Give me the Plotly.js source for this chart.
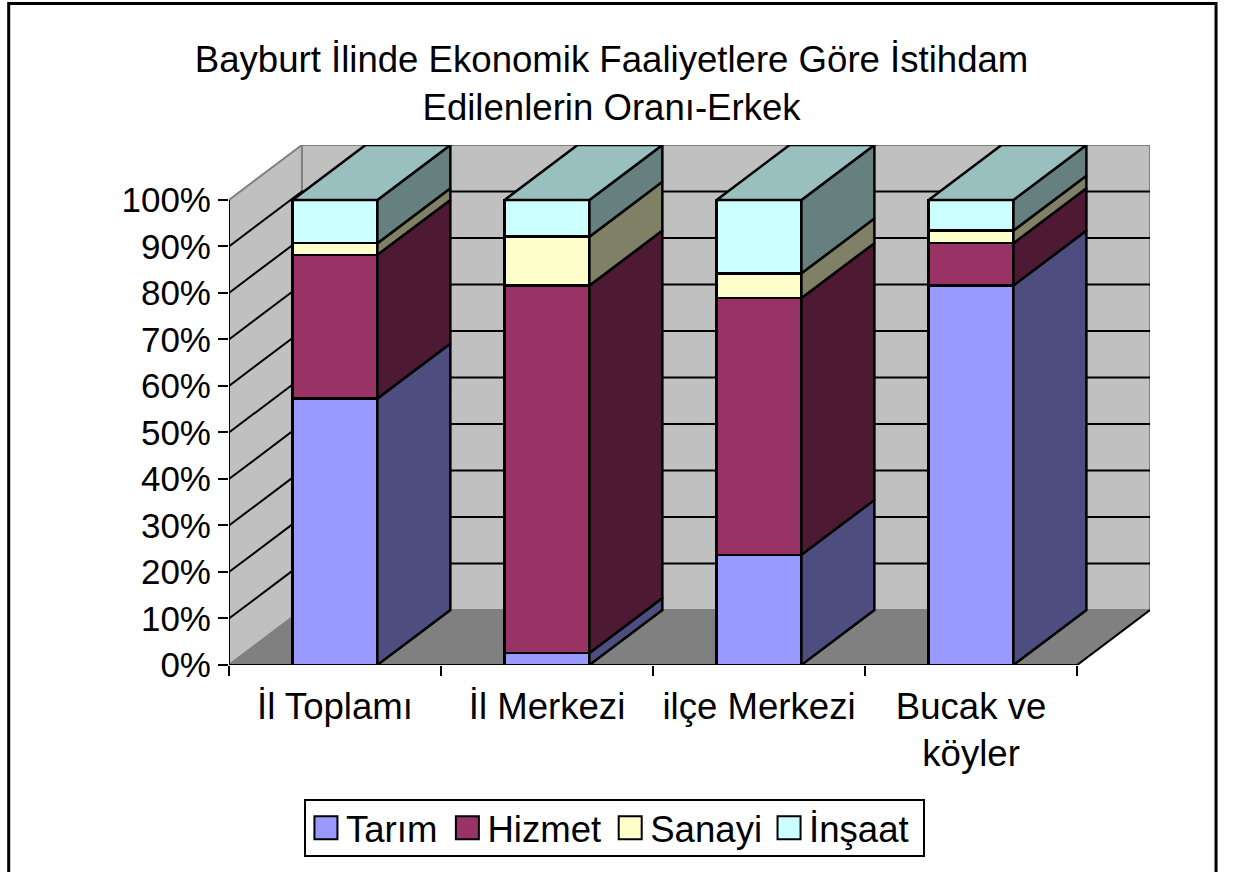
<!DOCTYPE html>
<html>
<head>
<meta charset="utf-8">
<script src="https://cdn.plot.ly/plotly-3.0.1.min.js"></script>
<style>
    body { margin: 0; background: #fff; }
</style>
</head>
<body>
<div id="chart"></div>
<script>
// Values (share of employed men, %)
const categories = ["İl Toplamı", "İl Merkezi", "ilçe Merkezi", "Bucak ve<br>köyler"];
const tarim = [57.3, 2.6, 23.7, 81.6];
const hizmet = [30.9, 79.0, 55.2, 9.1];
const sanayi = [2.5, 10.5, 5.3, 2.7];
const insaat = [9.3, 7.9, 15.8, 6.6];
const seriesNames = ["Tarım", "Hizmet", "Sanayi", "İnşaat"];
const percentTicks = [0, 10, 20, 30, 40, 50, 60, 70, 80, 90, 100];

const frontColors = ["#9999FF", "#993366", "#FFFFCC", "#CCFFFF"];
const sideColors = ["#4D4D80", "#4D1933", "#808066", "#668080"];
const topColor = "#9ABFBF";

// Fake 3D: the depth of the box, in axis units
const depthX = 0.344;
const depthY = 11.8;
const barWidth = 0.4;
const edgeWidth = 2.5;
const fontName = '"Liberation Sans", Arial, sans-serif';
const fontSize = 36.6;

const seriesValues = [tarim, hizmet, sanayi, insaat];
const positions = categories.map((c, i) => i + 0.5);

// Front faces are normal stacked bars
const barTraces = seriesValues.map((values, s) => ({
    type: "bar",
    name: seriesNames[s],
    x: positions,
    y: values,
    width: barWidth,
    cliponaxis: false,
    marker: { color: frontColors[s], line: { color: "#000", width: edgeWidth } },
    hoverinfo: "y+name",
}));

// Side faces, one trace per series, polygons separated by nulls
const base = categories.map(() => 0);
const sideTraces = seriesValues.map((values, s) => {
    const xs = [];
    const ys = [];
    values.forEach((v, i) => {
        const right = positions[i] + barWidth / 2;
        const y0 = base[i];
        const y1 = base[i] + v;
        xs.push(right, right + depthX, right + depthX, right, right, null);
        ys.push(y0, y0 + depthY, y1 + depthY, y1, y0, null);
        base[i] = y1;
    });
    return {
        type: "scatter",
        mode: "lines",
        x: xs,
        y: ys,
        fill: "toself",
        fillcolor: sideColors[s],
        line: { color: "#000", width: edgeWidth },
        cliponaxis: false,
        showlegend: false,
        hoverinfo: "skip",
    };
});

// Top faces
const topX = [];
const topY = [];
positions.forEach((p, i) => {
    const l = p - barWidth / 2;
    const r = p + barWidth / 2;
    topX.push(l, l + depthX, r + depthX, r, l, null);
    topY.push(base[i], base[i] + depthY, base[i] + depthY, base[i], base[i], null);
});
const topTrace = {
    type: "scatter",
    mode: "lines",
    x: topX,
    y: topY,
    fill: "toself",
    fillcolor: topColor,
    line: { color: "#000", width: edgeWidth },
    cliponaxis: false,
    showlegend: false,
    hoverinfo: "skip",
};

const nCat = categories.length;
const wallLine = { color: "#808080", width: 2 };

function poly(points) {
    return "M" + points.map(p => p.join(",")).join("L") + "Z";
}

const shapes = [
    // outer frame, runs off the bottom of the page
    { type: "path", xref: "paper", yref: "paper", layer: "below",
      path: "M-0.2392,-0.5 L-0.2392,1.272 L1.0717,1.272 L1.0717,-0.5",
      line: { color: "#000", width: 3 } },
    // back wall
    { type: "rect", layer: "below", x0: depthX, x1: nCat + depthX, y0: depthY, y1: 100 + depthY,
      fillcolor: "#C0C0C0", line: wallLine },
    // left wall
    { type: "path", layer: "below",
      path: poly([[0, 0], [depthX, depthY], [depthX, 100 + depthY], [0, 100]]),
      fillcolor: "#C0C0C0", line: wallLine },
    // floor
    { type: "path", layer: "below",
      path: poly([[0, 0], [nCat, 0], [nCat + depthX, depthY], [depthX, depthY]]),
      fillcolor: "#808080", line: wallLine },
];

// Gridlines run along the left wall and then along the back wall
percentTicks.slice(1, -1).forEach(v => {
    shapes.push({
        type: "path", layer: "below",
        path: `M0,${v}L${depthX},${v + depthY}L${nCat + depthX},${v + depthY}`,
        line: { color: "#000", width: 2 },
    });
});

// Axis lines and the front right edge of the floor
shapes.push(
    { type: "line", layer: "below", x0: 0, x1: 0, y0: 0, y1: 100, line: { color: "#000", width: 2 } },
    { type: "line", layer: "above", x0: 0, x1: nCat, y0: 0, y1: 0, line: { color: "#000", width: 2 } },
    { type: "line", layer: "below", x0: nCat, x1: nCat + depthX, y0: 0, y1: depthY, line: { color: "#000", width: 2 } }
);

const layout = {
    width: 1233,
    height: 872,
    autosize: false,
    margin: { l: 229, r: 83, t: 144.5, b: 206.5 },
    paper_bgcolor: "rgba(0,0,0,0)",
    plot_bgcolor: "rgba(0,0,0,0)",
    font: { family: fontName, size: fontSize, color: "#000" },
    title: {
        text: "Bayburt İlinde Ekonomik Faaliyetlere Göre İstihdam<br>Edilenlerin Oranı-Erkek",
        x: 0.496,
        xanchor: "center",
        y: 0.9175,
        yanchor: "top",
        font: { family: fontName, size: fontSize, color: "#000" },
    },
    barmode: "stack",
    xaxis: {
        range: [0, nCat + depthX],
        tickmode: "array",
        tickvals: positions,
        ticktext: categories,
        tickangle: 0,
        ticks: "",
        ticklabelstandoff: 16,
        showgrid: false,
        zeroline: false,
        showline: false,
        fixedrange: true,
        minor: { tickmode: "array", tickvals: [0, 1, 2, 3, 4], ticks: "outside", ticklen: 10, tickwidth: 2, tickcolor: "#000", showgrid: false },
    },
    yaxis: {
        range: [0, 100 + depthY],
        tickmode: "array",
        tickvals: percentTicks,
        ticktext: percentTicks.map(v => v + "%"),
        tickfont: { size: 35 },
        ticks: "outside",
        ticklen: 10,
        tickwidth: 2,
        tickcolor: "#000",
        showgrid: false,
        zeroline: false,
        showline: false,
        fixedrange: true,
    },
    legend: {
        orientation: "h",
        traceorder: "normal",
        xref: "container",
        yref: "container",
        x: 0.2465,
        xanchor: "left",
        y: 0.0837,
        yanchor: "top",
        bgcolor: "#fff",
        bordercolor: "#000",
        borderwidth: 2,
        itemclick: false,
        itemdoubleclick: false,
        font: { family: fontName, size: fontSize, color: "#000" },
    },
    shapes: shapes,
};

// Legend fine tuning after the draw: plotly fixes the swatch at 12px and packs entries tighter
const legendShift = [0, 5, 9, 11];
const legendBoxWidth = 619;
const legendBoxHeight = 56;

Plotly.newPlot("chart", [...barTraces, ...sideTraces, topTrace], layout, { displayModeBar: false }).then(gd => {
    gd.querySelectorAll(".legend .legendpoints path").forEach(p => {
        p.setAttribute("d", "M11.5,11.5H-11.5V-11.5H11.5Z");
        p.style.strokeWidth = "2px";
    });
    const bg = gd.querySelector(".legend .bg");
    const up = (parseFloat(bg.getAttribute("height")) - legendBoxHeight) / 2;
    gd.querySelectorAll(".legend .traces").forEach((t, i) => {
        const m = /translate\(([-\d.]+),\s*([-\d.]+)\)/.exec(t.getAttribute("transform"));
        t.setAttribute("transform", `translate(${+m[1] + legendShift[i]},${+m[2] - up})`);
    });
    bg.setAttribute("width", legendBoxWidth);
    bg.setAttribute("height", legendBoxHeight);
    gd.querySelectorAll(".legend clipPath rect, defs .legend rect").forEach(r => r.setAttribute("width", legendBoxWidth));
    const clip = gd.querySelector(".legend .scrollbox");
    if (clip) clip.removeAttribute("clip-path");
});
</script>
</body>
</html>
